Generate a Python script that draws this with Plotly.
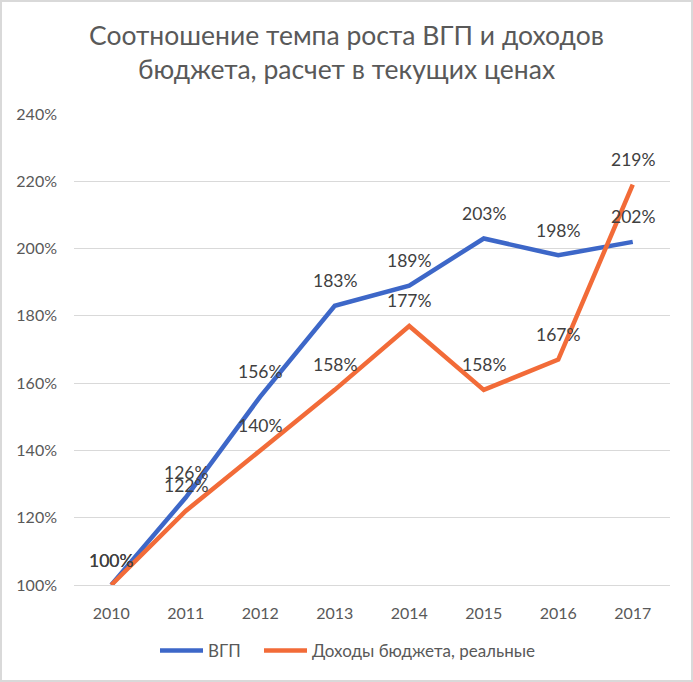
import plotly.graph_objects as go

years = [2010, 2011, 2012, 2013, 2014, 2015, 2016, 2017]
gdp = [100, 126, 156, 183, 189, 203, 198, 202]
revenue = [100, 122, 140, 158, 177, 158, 167, 219]
gdp_name = "ВГП"
rev_name = "Доходы бюджета, реальные"
title_text = "Соотношение темпа роста ВГП и доходов<br>бюджета, расчет в текущих ценах"
y_ticks = [100, 120, 140, 160, 180, 200, 220, 240]

BLUE = "#3D67C8"
ORANGE = "#F26B38"
FONT = "Lato"
GRAY = "#595959"

W, H = 693, 682
L, R, T, B = 74, 23, 114, 97
pw = W - L - R
ph = H - T - B

fig = go.Figure()
fig.add_trace(go.Scatter(x=years, y=gdp, mode="lines", name=gdp_name,
                         line=dict(color=BLUE, width=4.5), legend="legend"))
fig.add_trace(go.Scatter(x=years, y=revenue, mode="lines", name=rev_name,
                         line=dict(color=ORANGE, width=4.5), legend="legend2"))

for xs, ys in ((years, gdp), (years, revenue)):
    for xv, yv in zip(xs, ys):
        fig.add_annotation(x=xv, y=yv, text=f"{yv}%", showarrow=False,
                           yshift=25, font=dict(family=FONT, size=17.5, color="#404040"))

leg_common = dict(orientation="h", xanchor="left", y=-(651 - 585) / ph, yanchor="middle",
                  font=dict(family=FONT, size=17, color=GRAY), itemwidth=43,
                  bgcolor="rgba(0,0,0,0)")
fig.update_layout(
    width=W, height=H,
    margin=dict(l=L, r=R, t=T, b=B),
    paper_bgcolor="white", plot_bgcolor="white",
    title=dict(text=title_text, x=0.5, xanchor="center", y=1 - 45 / H, yanchor="top",
               font=dict(family=FONT, size=26.5, color=GRAY)),
    showlegend=True,
    legend=dict(x=(155 - L) / pw, **leg_common),
    legend2=dict(x=(259 - L) / pw, **leg_common),
    font=dict(family=FONT, color=GRAY),
)
fig.update_xaxes(range=[years[0] - 0.5, years[-1] + 0.5], tickvals=years, ticktext=[str(y) for y in years],
                 showgrid=False, showline=True, linecolor="#D9D9D9", linewidth=1, zeroline=False,
                 tickfont=dict(family=FONT, size=16, color=GRAY), ticks="", ticklabelstandoff=14)
fig.update_yaxes(range=[100, 240], tickvals=y_ticks, ticktext=[f"{v}%" for v in y_ticks],
                 showgrid=True, gridcolor="#D9D9D9", gridwidth=1, zeroline=False,
                 tickfont=dict(family=FONT, size=16, color=GRAY), ticks="", ticklabelstandoff=16)

fig.add_shape(type="rect", xref="paper", yref="paper",
              x0=-(L - 1) / pw, x1=(W - L - 1) / pw, y0=-(B - 1) / ph, y1=(H - B - 1) / ph,
              line=dict(color="#D9D9D9", width=2), fillcolor="rgba(0,0,0,0)", layer="below")

fig.write_html("out.html")
